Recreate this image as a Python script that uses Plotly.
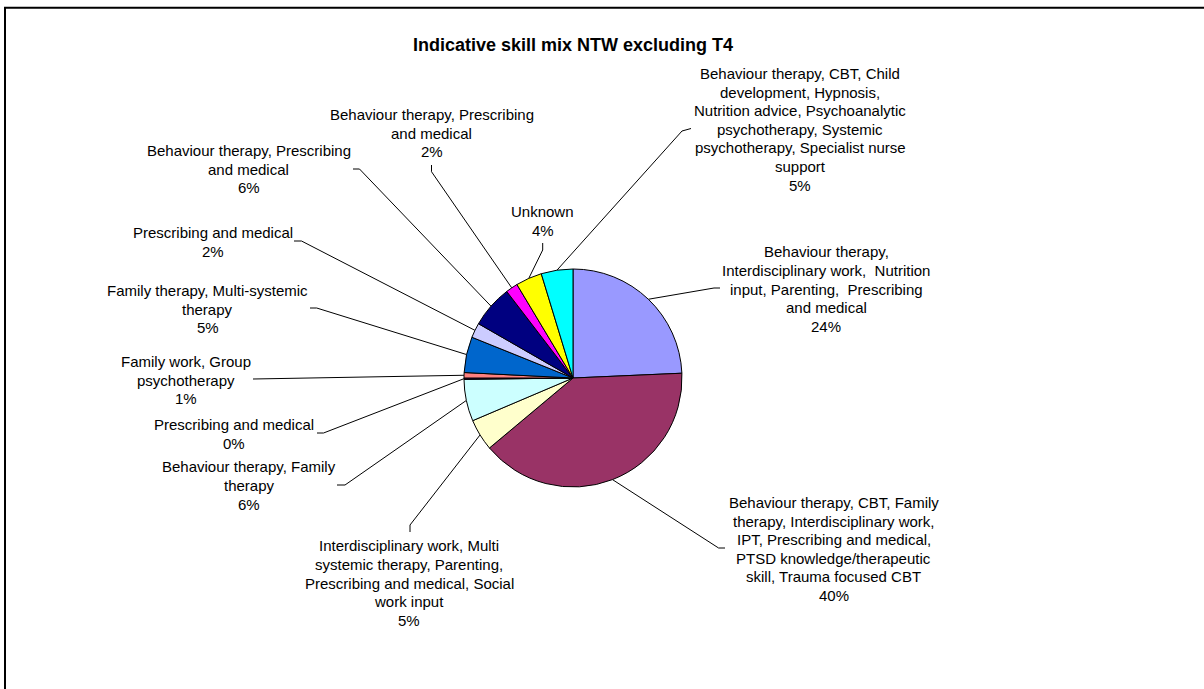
import math
import plotly.graph_objects as go

W, H = 1204, 689

TITLE = "Indicative skill mix NTW excluding T4"

# Slices in clockwise order starting at 12 o'clock; "\n" marks the wrapped label lines
CATEGORIES = [
    "Behaviour therapy,\nInterdisciplinary work,\u00a0 Nutrition\ninput, Parenting,\u00a0 Prescribing\nand medical",
    "Behaviour therapy, CBT, Family\ntherapy, Interdisciplinary work,\nIPT, Prescribing and medical,\nPTSD knowledge/therapeutic\nskill, Trauma focused CBT",
    "Interdisciplinary work, Multi\nsystemic therapy, Parenting,\nPrescribing and medical, Social\nwork input",
    "Behaviour therapy, Family\ntherapy",
    "Prescribing and medical",
    "Family work, Group\npsychotherapy",
    "Family therapy, Multi-systemic\ntherapy",
    "Prescribing and medical",
    "Behaviour therapy, Prescribing\nand medical",
    "Behaviour therapy, Prescribing\nand medical",
    "Unknown",
    "Behaviour therapy, CBT, Child\ndevelopment, Hypnosis,\nNutrition advice, Psychoanalytic\npsychotherapy, Systemic\npsychotherapy, Specialist nurse\nsupport",
]
SHARES = [24.3, 39.6, 4.7, 6.2, 0.2, 0.8, 5.3, 2.2, 6.3, 1.8, 3.9, 4.7]
COLORS = ["#9999FF", "#993366", "#FFFFCC", "#CCFFFF", "#660066", "#FF8080",
          "#0066CC", "#CCCCFF", "#000080", "#FF00FF", "#FFFF00", "#00FFFF"]

# Pie geometry in pixels
PIE_CX, PIE_CY, PIE_R = 573, 378, 109

# Label block centres, and leader line anchor (at label) / elbow points, in pixels
LABEL_CENTER = [(826, 289), (833.5, 549), (409, 583), (249.3, 485.5),
                (234.2, 433.7), (186, 380), (207.5, 309), (212.5, 241.7),
                (248.7, 169.3), (431.7, 133.3), (542.6, 221), (800, 129.2)]
LEADER_ANCHOR = [(720, 288), (725, 548), (410, 532), (337, 485),
                 (317, 433), (253, 379), (310, 308), (294, 241),
                 (353, 169), (431.5, 165), (542.7, 243), (691, 128.5)]
LEADER_ELBOW = [(714, 288), (718.6, 548), (410, 525), (345, 485),
                (323.5, 433), (260, 379), (316.7, 308), (301.5, 241),
                (359.5, 169), (431.5, 171.7), (542.7, 250), (682, 131)]

FONT = "Arial, Liberation Sans, sans-serif"
LINE_STEP = 18.6
LABEL_SIZE = 15

total = sum(SHARES)

fig = go.Figure()

# Leader lines: from slice mid-angle on the rim to the label
lx, ly = [], []
cum = 0.0
for i, v in enumerate(SHARES):
    mid = (cum + v / 2) / total * 2 * math.pi
    cum += v
    ex = PIE_CX + PIE_R * math.sin(mid)
    ey = PIE_CY - PIE_R * math.cos(mid)
    bx, by = LEADER_ELBOW[i]
    axx, ayy = LEADER_ANCHOR[i]
    lx += [ex, bx, axx, None]
    ly += [ey, by, ayy, None]

fig.add_trace(go.Scatter(x=lx, y=ly, mode="lines",
                         line=dict(color="black", width=1),
                         hoverinfo="skip", showlegend=False))

fig.add_trace(go.Pie(
    values=SHARES,
    marker=dict(colors=COLORS, line=dict(color="black", width=1)),
    sort=False, direction="clockwise", rotation=0,
    textinfo="none",
    customdata=[c.replace("\n", " ") for c in CATEGORIES],
    hovertemplate="%{customdata}<br>%{percent}<extra></extra>",
    domain=dict(x=[(PIE_CX - PIE_R) / W, (PIE_CX + PIE_R) / W],
                y=[1 - (PIE_CY + PIE_R) / H, 1 - (PIE_CY - PIE_R) / H]),
    showlegend=False,
))

annotations = []
for i, (name, v) in enumerate(zip(CATEGORIES, SHARES)):
    lines = name.split("\n") + [f"{round(v / total * 100)}%"]
    cx, cy = LABEL_CENTER[i]
    n = len(lines)
    for k, t in enumerate(lines):
        annotations.append(dict(
            x=cx, y=cy + (k - (n - 1) / 2) * LINE_STEP, xref="x", yref="y",
            text=t, showarrow=False, xanchor="center", yanchor="middle",
            font=dict(family=FONT, size=LABEL_SIZE, color="black")))

annotations.append(dict(
    x=572.5, y=45, xref="x", yref="y", text=f"<b>{TITLE}</b>",
    showarrow=False, xanchor="center", yanchor="middle",
    font=dict(family=FONT, size=18, color="black")))

fig.update_layout(
    width=W, height=H,
    margin=dict(l=0, r=0, t=0, b=0),
    paper_bgcolor="white", plot_bgcolor="white",
    xaxis=dict(range=[0, W], visible=False, fixedrange=True),
    yaxis=dict(range=[H, 0], visible=False, fixedrange=True),
    annotations=annotations,
    shapes=[dict(type="rect", xref="x", yref="y", x0=5, y0=7.8, x1=W + 20, y1=H + 20,
                 line=dict(color="black", width=2), fillcolor="rgba(0,0,0,0)")],
    showlegend=False,
)

fig.write_html("out.html")
